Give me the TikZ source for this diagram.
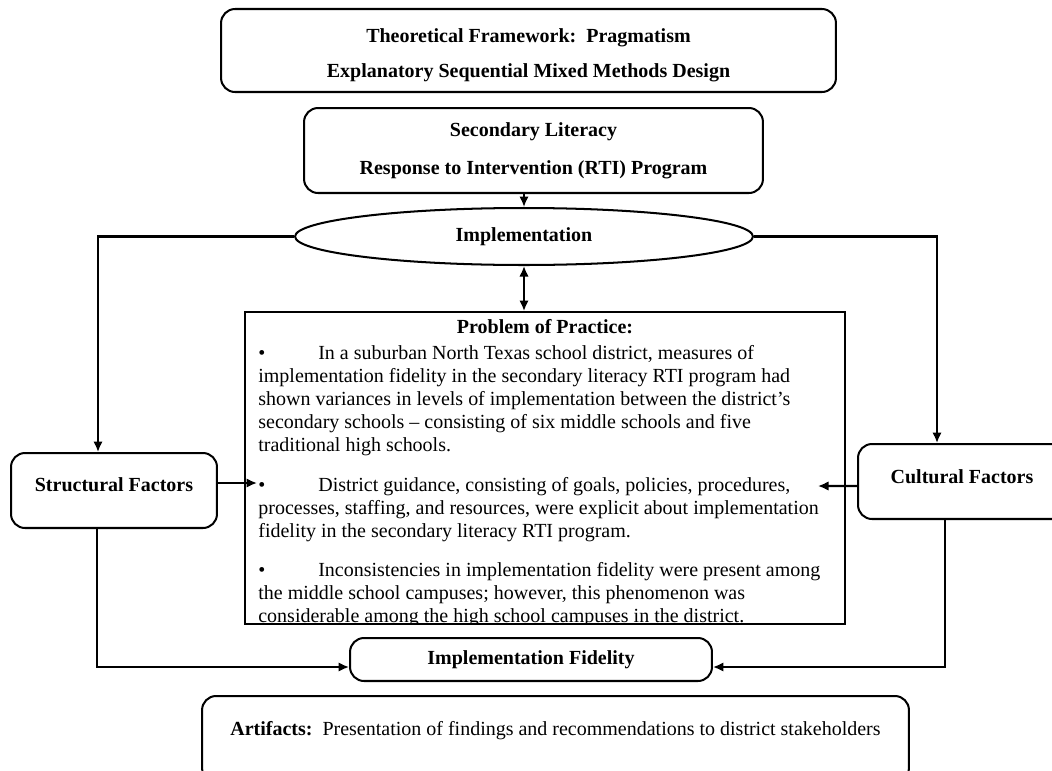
\documentclass[tikz,border=0pt]{standalone}
\usepackage{fontspec}
\setmainfont{Liberation Serif}
\usepackage{tikz}
\usetikzlibrary{calc}
\usetikzlibrary{arrows.meta}
\usetikzlibrary{shapes.geometric}

\tikzset{
	rbox/.style = {draw, line width=1.15pt, rounded corners=0.28cm, inner sep=0pt, align=center, font=\bfseries},
	sbox/.style = {draw, line width=1.15pt, inner sep=0pt},
	head/.style = {inner sep=0pt, align=center, font=\bfseries},
	para/.style = {inner sep=0pt, align=left, anchor=north west},
	link/.style = {line width=1.15pt, -{Latex[length=0.21cm,width=0.19cm]}},
	twolink/.style = {line width=1.15pt, {Latex[length=0.21cm,width=0.19cm]}-{Latex[length=0.21cm,width=0.19cm]}},
}

\begin{document}
\fontsize{11.38}{13.09}\selectfont
\begin{tikzpicture}[x=0.02cm, y=-0.02cm]
		\useasboundingbox (0,0) rectangle (1052,771);
		\node[rbox, minimum width=12.3cm, minimum height=1.66cm] (frame) at (528.5,50.5) {};
		\node[head] (frameT) at (528.5,55.5)
			{Theoretical Framework:\ \ Pragmatism\\[0.24cm]Explanatory Sequential Mixed Methods Design};
		\node[rbox, minimum width=9.18cm, minimum height=1.7cm] (lit) at (533.5,150.5)
			{Secondary Literacy\\[0.3cm]Response to Intervention (RTI) Program};
		\node[draw, ellipse, line width=1.15pt, inner sep=0pt, minimum width=9.16cm, minimum height=1.14cm, font=\bfseries] (impl) at (524,236.5) {Implementation};

		% problem of practice
		\node[sbox, minimum width=12cm, minimum height=6.24cm] (prob) at (545,468) {};
		\node[head] (probT) at (545,327) {Problem of Practice:};
		\begin{scope}
		\clip (prob.north west) rectangle (prob.south east);
		\node[para] (probA) at (258,345) {\makebox[1.2cm][l]{\textbullet}In a suburban North Texas school district, measures of\\
			implementation fidelity in the secondary literacy RTI program had\\
			shown variances in levels of implementation between the district’s\\
			secondary schools – consisting of six middle schools and five\\
			traditional high schools.};
		\node[para] (probB) at (258,477) {\makebox[1.2cm][l]{\textbullet}District guidance, consisting of goals, policies, procedures,\\
			processes, staffing, and resources, were explicit about implementation\\
			fidelity in the secondary literacy RTI program.};
		\node[para] (probC) at (258,562) {\makebox[1.2cm][l]{\textbullet}Inconsistencies in implementation fidelity were present among\\
			the middle school campuses; however, this phenomenon was\\
			considerable among the high school campuses in the district.};
		\end{scope}

		\node[rbox, minimum width=4.12cm, minimum height=1.5cm] (struct) at (114,490.5) {};
		\node[head] (structT) at (114,485) {Structural Factors};
		\node[rbox, minimum width=4.16cm, minimum height=1.5cm] (cult) at (962,481.5) {};
		\node[head] (cultT) at (962,477) {Cultural Factors};
		\node[rbox, minimum width=7.24cm, minimum height=0.86cm] (fid) at (531,659.5) {Implementation Fidelity};
		\node[rbox, minimum width=14.14cm, minimum height=1.72cm] (art) at (555.5,739) {};
		\node (artT) at (555.5,731) {\textbf{Artifacts:}\ \ Presentation of findings and recommendations to district stakeholders};

		\coordinate (sTip) at (257,483);
		\coordinate (cTip) at (818,486);
		\draw[link] (impl.north |- lit.south) -- (impl.north);
		\draw[twolink] (impl.south) -- (impl.south |- prob.north);
		\draw[link] (impl.west) -| ($(struct.north)+(-16,0)$);
		\draw[link] (impl.east) -| ($(cult.north)+(-25,0)$);
		\draw[link] ($(struct.east)+(0,-7.5)$) -- (sTip);
		\draw[link] ($(cult.west)+(0,4.5)$) -- (cTip);
		\draw[link] ($(struct.south)+(-17,0)$) |- ($(fid.west)+(0,7.5)$);
		\draw[link] ($(cult.south)+(-17,0)$) |- ($(fid.east)+(0,7.5)$);
	\end{tikzpicture}
\end{document}
